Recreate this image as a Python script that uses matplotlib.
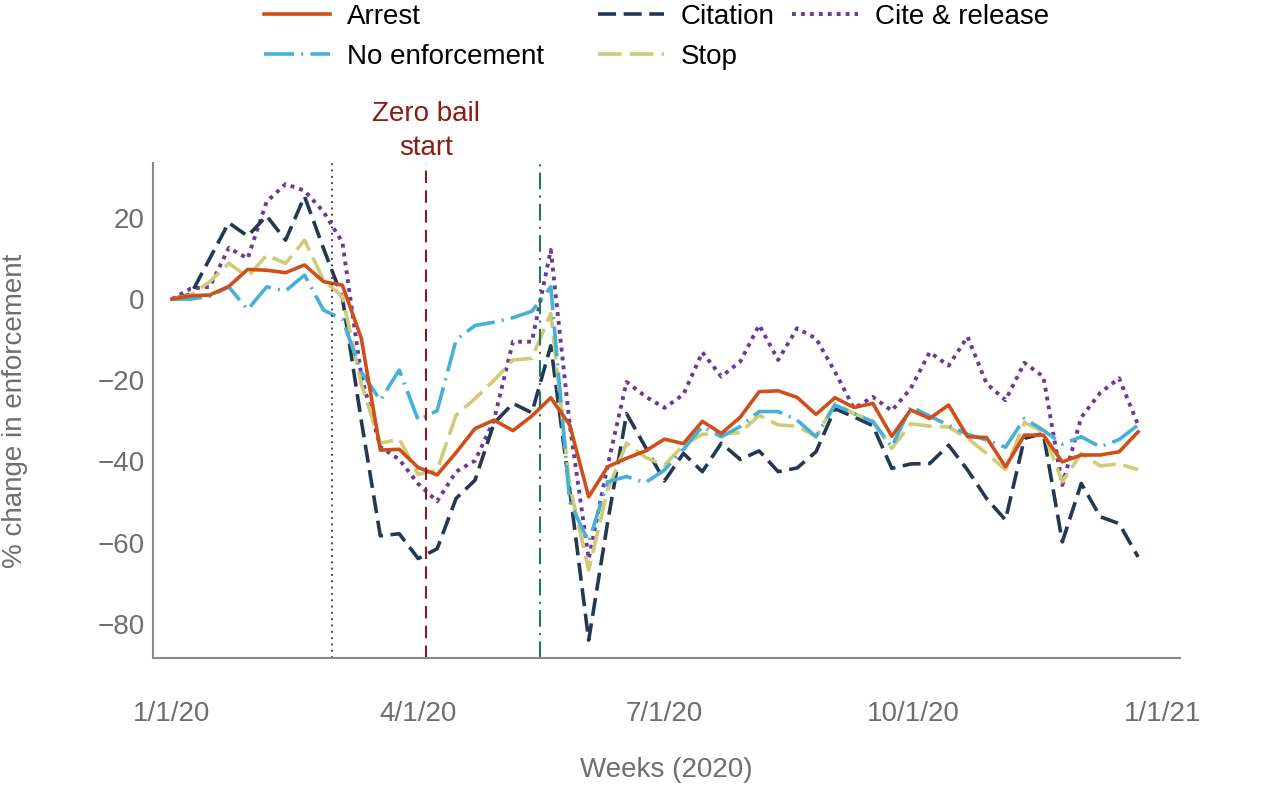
import matplotlib
matplotlib.use("Agg")
import matplotlib.pyplot as plt
import pandas as pd

plt.rcParams['font.family'] = ['Liberation Sans', 'DejaVu Sans']

# weekly data, % change in enforcement vs. first week of 2020
weeks = pd.date_range('2020-01-01', periods=52, freq='7D')

arrest = [0, 0.8, 1.0, 3.1, 7.3, 7.1, 6.5, 8.4, 4.3, 3.4,
          -9.7, -37.2, -37.0, -41.5, -43.3, -37.8, -31.9, -29.8, -32.4, -28.8,
          -24.3, -31.0, -48.7, -41.3, -39.2, -37.4, -34.5, -35.6, -30.1, -33.1,
          -29.1, -22.8, -22.6, -24.2, -28.4, -24.3, -26.7, -25.7, -33.8, -27.3,
          -29.4, -26.1, -33.9, -34.1, -41.3, -33.5, -33.5, -40.1, -38.4, -38.4,
          -37.6, -32.7]
no_enforcement = [0, 0, 0.7, 3.0, -2.6, 3.0, 2.0, 5.9, -2.7, -5.0,
                  -18.0, -24.9, -17.5, -29.8, -27.5, -10.1, -6.5, -5.7, -4.6, -3.0,
                  3.0, -50.0, -59.8, -45.0, -43.7, -45.2, -42.1, -37.0, -31.4, -33.9,
                  -31.4, -27.7, -27.7, -29.8, -33.9, -26.1, -28.2, -30.2, -36.4, -26.5,
                  -28.8, -31.1, -33.3, -34.7, -36.5, -29.4, -32.3, -35.7, -33.9, -36.4,
                  -34.6, -31.0]
citation = [0, 1.2, 10.0, 18.8, 15.5, 20.5, 14.5, 25.3, 12.5, 0.3,
            -30.0, -58.3, -57.8, -63.9, -61.5, -49.1, -44.6, -30.6, -25.7, -28.0,
            -11.5, -47.0, -84.0, -55.0, -28.2, -36.5, -44.8, -38.0, -42.5, -35.5,
            -39.5, -37.4, -42.5, -41.6, -37.6, -27.0, -29.0, -31.2, -41.7, -40.6,
            -40.5, -36.0, -42.1, -49.1, -54.4, -34.3, -33.1, -59.8, -45.4, -53.6,
            -55.3, -63.5]
stop = [0, 1.0, 4.3, 8.8, 5.5, 10.8, 8.8, 14.5, 4.7, 0.6,
        -21.0, -35.5, -34.5, -43.2, -42.1, -28.6, -24.5, -20.0, -15.0, -14.6,
        -3.5, -46.0, -66.7, -47.0, -35.5, -39.0, -40.9, -36.0, -33.3, -33.1,
        -32.9, -28.6, -31.0, -31.3, -33.9, -25.7, -28.2, -30.0, -36.8, -30.7,
        -31.3, -31.5, -34.3, -38.0, -42.0, -30.4, -32.7, -45.0, -38.0, -41.1,
        -40.6, -42.0]
cite_release = [0, 2.6, 3.0, 12.6, 10.0, 24.0, 28.3, 26.7, 21.5, 14.0,
                -19.0, -36.4, -39.5, -45.5, -49.8, -42.5, -39.8, -29.8, -10.5, -10.5,
                12.1, -31.0, -64.0, -41.0, -20.4, -24.0, -26.8, -23.5, -13.1, -19.1,
                -15.4, -6.4, -15.0, -7.2, -9.7, -17.9, -26.9, -24.1, -27.5, -22.0,
                -13.1, -16.4, -9.3, -20.8, -24.9, -15.7, -19.1, -45.8, -29.1, -23.1,
                -19.5, -31.0]

event_dates = ['2020-02-29', '2020-04-04', '2020-05-16']
tick_dates = ['2020-01-01', '2020-04-01', '2020-07-01', '2020-10-01', '2021-01-01']
tick_labels = ['1/1/20', '4/1/20', '7/1/20', '10/1/20', '1/1/21']
y_ticks = [-80, -60, -40, -20, 0, 20]

gray = '#6d6e71'
fig = plt.figure(figsize=(12.8, 7.86), dpi=100)
ax = fig.add_axes([0.1195, 0.1628, 0.8024, 0.6298])

lw = 2.6
l_cite, = ax.plot(weeks, cite_release, color='#6b3a99', lw=2.8, dashes=(1, 1.3),
                  dash_capstyle='butt', label='Cite & release')
l_cit, = ax.plot(weeks, citation, color='#253852', lw=lw, dashes=(5.0, 2.1),
                 label='Citation')
l_stop, = ax.plot(weeks, stop, color='#cfcb76', lw=lw, dashes=(6.6, 2.2),
                  label='Stop')
l_noenf, = ax.plot(weeks, no_enforcement, color='#45b1d8', lw=lw,
                   dashes=(8.3, 2.0, 0.55, 2.0), label='No enforcement')
l_arr, = ax.plot(weeks, arrest, color='#cf4f1b', lw=lw, label='Arrest')

# policy markers
ev = [pd.Timestamp(d) for d in event_dates]
ax.axvline(ev[0], color='#333333', lw=1.3, ls=(0, (1, 2.5)))
ax.axvline(ev[1], color='#8b1a1a', lw=1.5, ls=(0, (6, 3.5)))
ax.axvline(ev[2], color='#1f7a5a', lw=1.5, ls=(0, (8, 3, 1, 3)))
ax.text(ev[1], 1.005, 'Zero bail\nstart', transform=ax.get_xaxis_transform(),
        ha='center', va='bottom', color='#8b1a1a', fontsize=20, linespacing=1.4)

ax.set_xlim(pd.Timestamp('2019-12-25'), pd.Timestamp('2021-01-07 12:00'))
ax.set_ylim(-88.4, 33.5)
ax.set_xticks([pd.Timestamp(d) for d in tick_dates])
ax.set_xticklabels(tick_labels)
ax.set_yticks(y_ticks)
ax.tick_params(axis='x', length=0, pad=31, labelsize=20, labelcolor=gray)
ax.tick_params(axis='y', length=0, pad=6, labelsize=20, labelcolor=gray)

for side in ['top', 'right']:
    ax.spines[side].set_visible(False)
for side in ['left', 'bottom']:
    ax.spines[side].set_color('#8a8a8a')
    ax.spines[side].set_linewidth(1.5)

ax.set_xlabel('Weeks (2020)', fontsize=20, color=gray)
ax.xaxis.set_label_coords(0.5, -0.2)
ax.set_ylabel('% change in enforcement', fontsize=20, color=gray)
ax.yaxis.set_label_coords(-0.122, 0.5)

# legend in three columns placed like the original
columns = [([l_arr, l_noenf], 0.2063), ([l_cit, l_stop], 0.4672), ([l_cite], 0.6188)]
for handles, xpos in columns:
    fig.legend(handles=handles, loc='upper left', bbox_to_anchor=(xpos, 0.995),
               frameon=False, fontsize=20, handlelength=2.37, handletextpad=0.61,
               borderpad=0, borderaxespad=0, labelspacing=0.5)

fig.savefig('out.png', dpi=100)
